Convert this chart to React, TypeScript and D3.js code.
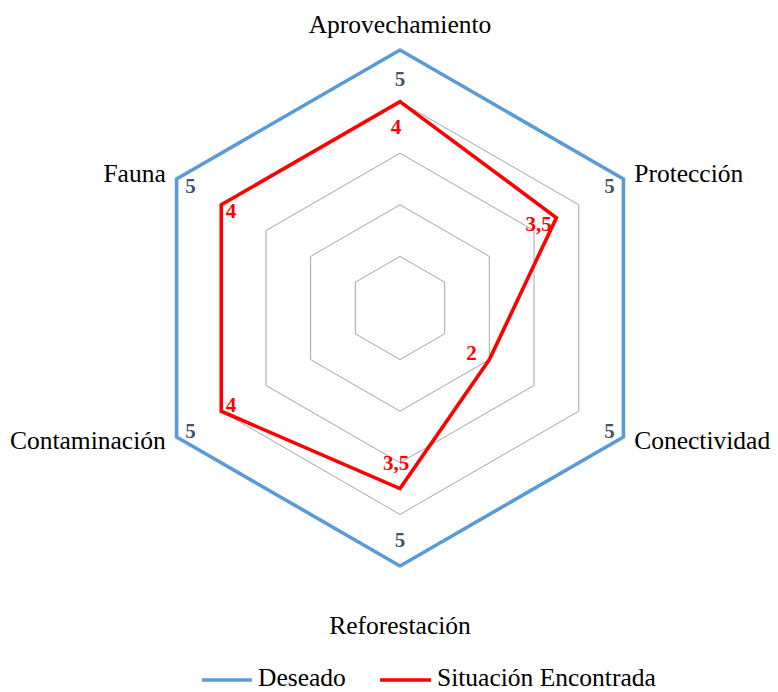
import React from 'react';
import * as d3 from 'd3';

const categories = ['Aprovechamiento', 'Protección', 'Conectividad', 'Reforestación', 'Contaminación', 'Fauna'];
const deseado = [5, 5, 5, 5, 5, 5];
const situacion = [4, 3.5, 2, 3.5, 4, 4];
const gridLevels = [1, 2, 3, 4, 5];
const seriesNames = ['Deseado', 'Situación Encontrada'];
const seriesColors = ['#5B9BD5', '#FF0000'];
const labelColors = ['#44546A', '#FF0000'];
const maxValue = 5;

const FONT = '"Liberation Serif", "Times New Roman", serif';

export default function App() {
  const W = 778, H = 692, cx = 400, cy = 308, R = 258;
  const r = d3.scaleLinear().domain([0, maxValue]).range([0, R]);
  const n = categories.length;
  const ang = d3.scaleLinear().domain([0, n]).range([0, 2 * Math.PI]);

  const line = d3
    .lineRadial<number>()
    .angle((_, i) => ang(i))
    .radius((d) => r(d))
    .curve(d3.curveLinearClosed);

  const pt = (i: number, v: number) => {
    const a = ang(i);
    return [cx + r(v) * Math.sin(a), cy - r(v) * Math.cos(a)];
  };

  const fmt = (v: number) => String(v).replace('.', ',');

  const series = [deseado, situacion];

  return (
    <svg width={W} height={H} style={{ position: 'absolute', left: 0, top: 0, background: '#fff' }}>
      <g transform={`translate(${cx},${cy})`}>
        {gridLevels.map((lv) => (
          <path
            key={lv}
            d={line(categories.map(() => lv)) || ''}
            fill="none"
            stroke="#A6A6A6"
            strokeWidth={1}
          />
        ))}
        {series.map((s, si) => (
          <path
            key={si}
            d={line(s) || ''}
            fill="none"
            stroke={seriesColors[si]}
            strokeWidth={3.6}
            strokeLinejoin="miter"
          />
        ))}
      </g>
      {series.map((s, si) =>
        s.map((v, i) => {
          const a = ang(i);
          const [x, y] = pt(i, v);
          const c = Math.cos(a);
          const dx = -Math.sin(a) * 16 - (si === 1 ? 4 : 0);
          const dy = c * Math.abs(c) * (c > 0 ? (si === 1 ? 25 : 29) : 26);
          return (
            <text
              key={`${si}-${i}`}
              x={x + dx}
              y={y + dy + 7}
              textAnchor="middle"
              fontFamily={FONT}
              fontWeight="bold"
              fontSize={21}
              fill={labelColors[si]}
            >
              {fmt(v)}
            </text>
          );
        })
      )}
      {categories.map((cat, i) => {
        const a = ang(i);
        const s = Math.sin(a);
        const c = Math.cos(a);
        const rr = R + 9;
        let x = cx + rr * s;
        let y = cy - rr * c + 7.5;
        let anchor: 'start' | 'middle' | 'end' = 'middle';
        if (s > 0.1) { anchor = 'start'; x += 3; }
        else if (s < -0.1) { anchor = 'end'; x -= 3; }
        else if (c > 0) { y -= 16; }
        else { y += 51; }
        return (
          <text key={cat} x={x} y={y} textAnchor={anchor} fontFamily={FONT} fontSize={25.5} fill="#000">
            {cat}
          </text>
        );
      })}
      <g>
        <line x1={202} x2={252} y1={680} y2={680} stroke={seriesColors[0]} strokeWidth={3.6} />
        <text x={258} y={686} fontFamily={FONT} fontSize={25.5} fill="#000">{seriesNames[0]}</text>
        <line x1={380} x2={431} y1={680} y2={680} stroke={seriesColors[1]} strokeWidth={3.6} />
        <text x={437} y={686} fontFamily={FONT} fontSize={25.5} fill="#000">{seriesNames[1]}</text>
      </g>
    </svg>
  );
}
